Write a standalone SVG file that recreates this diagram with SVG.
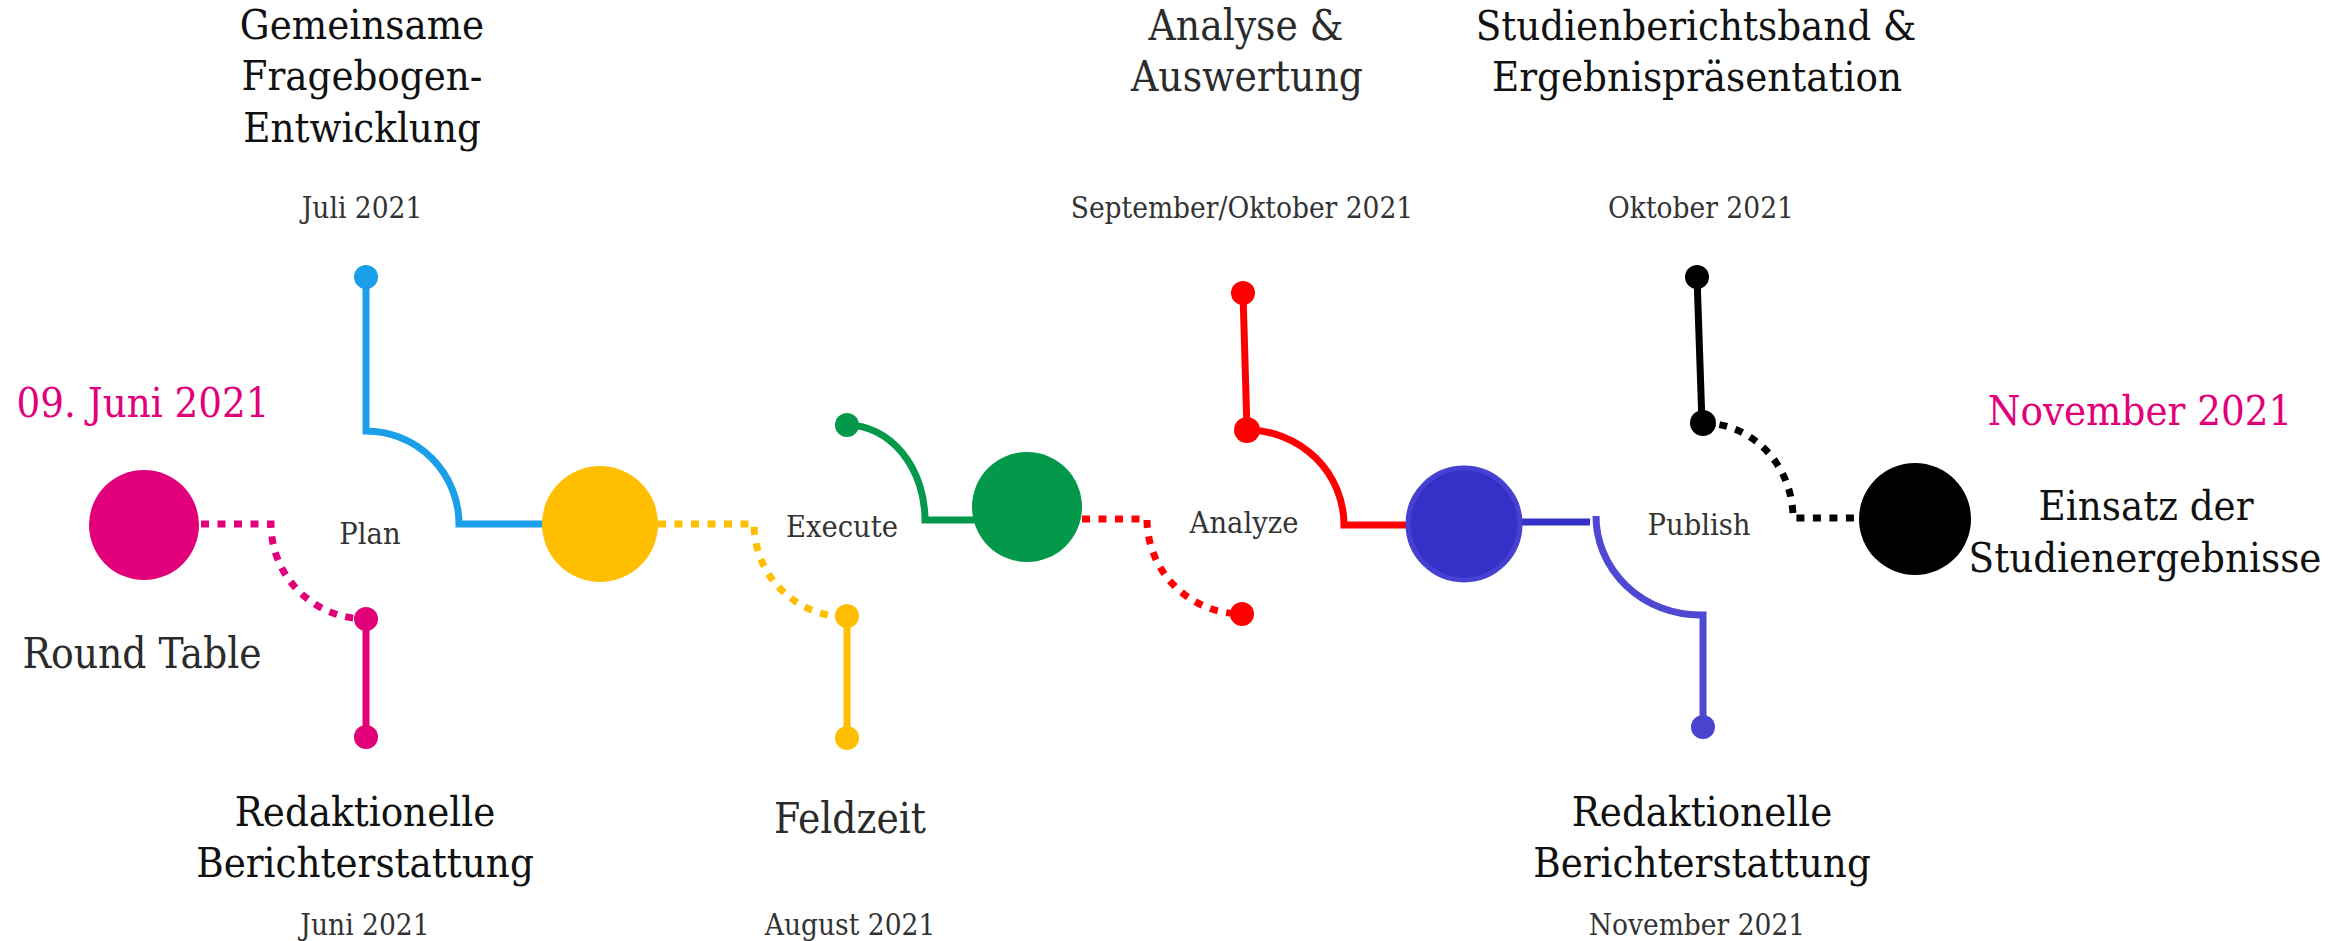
<svg xmlns="http://www.w3.org/2000/svg" width="2346" height="941" viewBox="0 0 2346 941">
<style>
text{font-family:"DejaVu Serif Condensed","DejaVu Serif","Liberation Serif",serif;font-stretch:condensed;text-anchor:middle}
.big{font-size:41.5px;fill:#111}
.mid{font-size:42px;fill:#2b2b2b}
.date{font-size:29.5px;fill:#333}
.phase{font-size:30.5px;fill:#333}
.pink{font-size:41.5px;fill:#e2007a}
.ln{fill:none;stroke-width:7}
.dot{stroke-dasharray:8 8.5}
</style>
<rect width="2346" height="941" fill="#fff"/>
<g id="connectors">
  <path class="ln dot" stroke="#e2007a" d="M201 524 H271 A95 95 0 0 0 366 619"/>
  <path class="ln" stroke="#e2007a" d="M366 619 V737"/>
  <path class="ln" stroke="#1a9fe8" d="M366 277 V431 A93 93 0 0 1 459 524 H545"/>
  <path class="ln dot" stroke="#ffbf00" d="M658 524 H754 A93 93 0 0 0 847 617"/>
  <path class="ln" stroke="#ffbf00" d="M847 616 V738"/>
  <path class="ln" stroke="#03984a" d="M847 425 A78 95 0 0 1 925 520 H975"/>
  <path class="ln dot" stroke="#ff0000" d="M1082 519 H1147 A95 95 0 0 0 1242 614"/>
  <path class="ln" stroke="#ff0000" d="M1243 293 L1247 430 A97 95 0 0 1 1344 525 H1408"/>
  <path class="ln" stroke="#3530c5" d="M1520 522 H1590"/>
  <path class="ln" stroke="#4e48d3" d="M1596 516 A104 99 0 0 0 1700 615 H1703 V727"/>
  <path class="ln" stroke="#000" d="M1697 277 L1702 423"/>
  <path class="ln dot" stroke="#000" d="M1703 423 A90 95 0 0 1 1793 518 H1859"/>
</g>
<g id="n-roundtable">
  <circle cx="144" cy="525" r="55" fill="#e2007a"/>
  <text class="pink" x="143" y="417">09. Juni 2021</text>
  <text class="mid" x="142" y="668">Round Table</text>
</g>
<g id="n-fragebogen">
  <circle cx="366" cy="277" r="12" fill="#1a9fe8"/>
  <text class="big" x="362" y="39">Gemeinsame</text>
  <text class="big" x="362" y="90">Fragebogen-</text>
  <text class="big" x="362" y="142">Entwicklung</text>
  <text class="date" x="362" y="218">Juli 2021</text>
</g>
<g id="n-redaktionelle1">
  <circle cx="366" cy="619" r="12" fill="#e2007a"/>
  <circle cx="366" cy="737" r="12" fill="#e2007a"/>
  <text class="big" x="365" y="826">Redaktionelle</text>
  <text class="big" x="365" y="877">Berichterstattung</text>
  <text class="date" x="365" y="935">Juni 2021</text>
</g>
<g id="n-plan">
  <circle cx="600" cy="524" r="58" fill="#ffbf00"/>
  <text class="phase" x="370" y="544">Plan</text>
</g>
<g id="n-feldzeit">
  <circle cx="847" cy="616" r="12" fill="#ffbf00"/>
  <circle cx="847" cy="738" r="12" fill="#ffbf00"/>
  <text class="mid" x="850" y="833">Feldzeit</text>
  <text class="date" x="850" y="935">August 2021</text>
</g>
<g id="n-execute">
  <circle cx="847" cy="425" r="12" fill="#03984a"/>
  <circle cx="1027" cy="507" r="55" fill="#03984a"/>
  <text class="phase" x="842" y="537">Execute</text>
</g>
<g id="n-analyze">
  <circle cx="1242" cy="614" r="12" fill="#ff0000"/>
  <text class="phase" x="1244" y="533">Analyze</text>
</g>
<g id="n-auswertung">
  <circle cx="1243" cy="293" r="12" fill="#ff0000"/>
  <circle cx="1247" cy="430" r="13" fill="#ff0000"/>
  <text class="mid" x="1246" y="40">Analyse &amp;</text>
  <text class="mid" x="1247" y="91">Auswertung</text>
  <text class="date" x="1242" y="218">September/Oktober 2021</text>
</g>
<g id="n-publish">
  <circle cx="1464" cy="524" r="56" fill="#3631c6" stroke="#4641d0" stroke-width="5"/>
  <text class="phase" x="1699" y="535">Publish</text>
</g>
<g id="n-redaktionelle2">
  <circle cx="1703" cy="727" r="12" fill="#4a43cf"/>
  <text class="big" x="1702" y="826">Redaktionelle</text>
  <text class="big" x="1702" y="877">Berichterstattung</text>
  <text class="date" x="1697" y="935">November 2021</text>
</g>
<g id="n-studienbericht">
  <circle cx="1697" cy="277" r="12" fill="#000"/>
  <circle cx="1703" cy="423" r="13" fill="#000"/>
  <text class="big" x="1696" y="40">Studienberichtsband &amp;</text>
  <text class="big" x="1697" y="91">Ergebnispräsentation</text>
  <text class="date" x="1701" y="218">Oktober 2021</text>
</g>
<g id="n-einsatz">
  <circle cx="1915" cy="519" r="56" fill="#000"/>
  <text class="pink" x="2140" y="425">November 2021</text>
  <text class="big" x="2146" y="520">Einsatz der</text>
  <text class="big" x="2145" y="572">Studienergebnisse</text>
</g>
</svg>
